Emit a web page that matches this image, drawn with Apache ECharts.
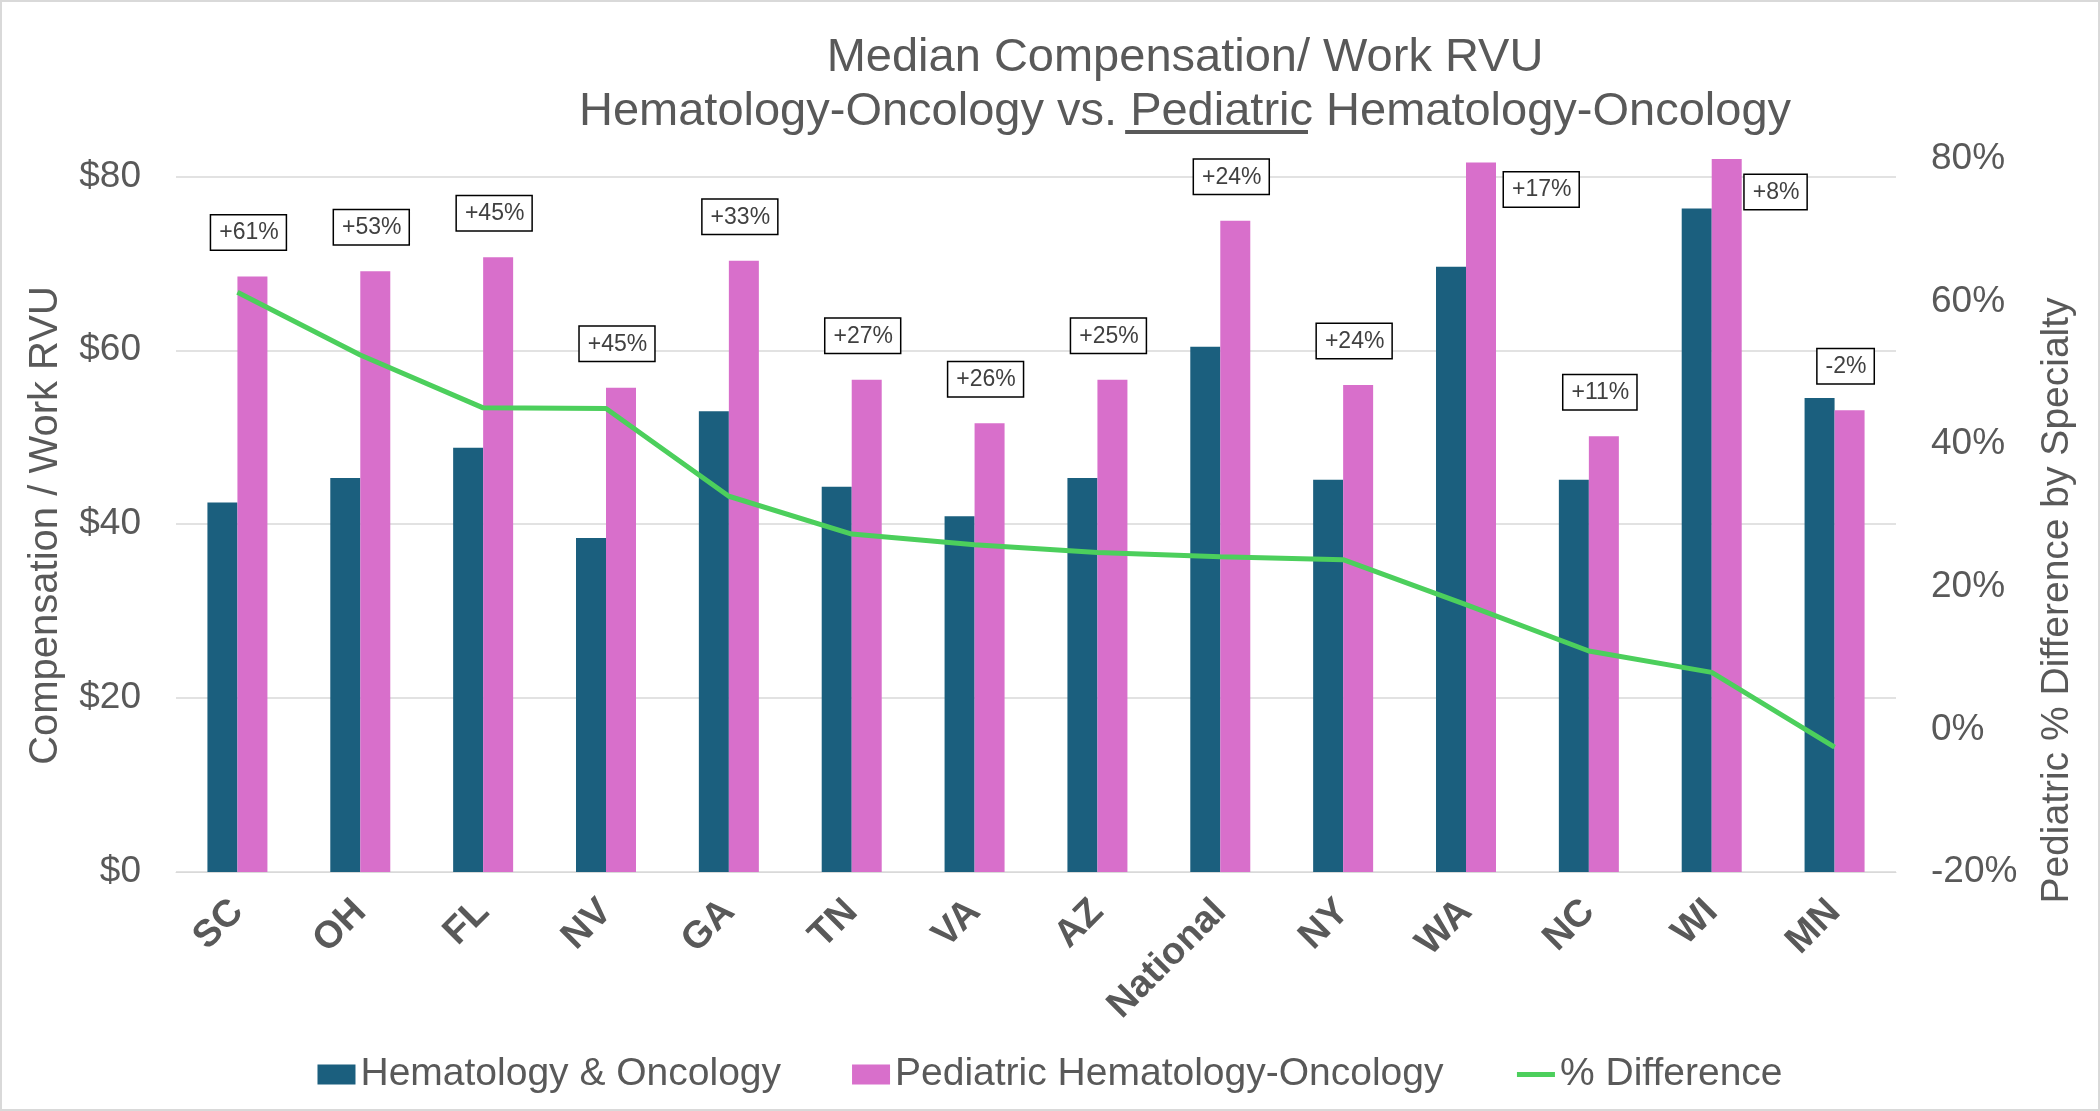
<!DOCTYPE html>
<html>
<head>
<meta charset="utf-8">
<script src="https://cdn.jsdelivr.net/npm/echarts@6/dist/echarts.min.js"></script>
<style>
  html, body { margin: 0; padding: 0; background: #fff; }
  #chart { width: 2100px; height: 1111px; box-sizing: border-box; border: 2px solid #d9d9d9; }
</style>
</head>
<body>
<div id="chart"></div>
<script>
// categories and values
var categories = ['SC', 'OH', 'FL', 'NV', 'GA', 'TN', 'VA', 'AZ', 'National', 'NY', 'WA', 'NC', 'WI', 'MN'];
var hemOnc = [42.5, 45.3, 48.8, 38.4, 53.0, 44.3, 40.9, 45.3, 60.4, 45.1, 69.6, 45.1, 76.3, 54.5];
var pedHemOnc = [68.5, 69.1, 70.7, 55.7, 70.3, 56.6, 51.6, 56.6, 74.9, 56.0, 81.6, 50.1, 82.1, 53.1];
var pctDiff = [61.3, 52.5, 45.1, 45.0, 32.7, 27.4, 25.9, 24.8, 24.2, 23.8, 17.5, 11.0, 8.0, -2.5];
var pctLabels = ['+61%', '+53%', '+45%', '+45%', '+33%', '+27%', '+26%', '+25%', '+24%', '+24%', '+17%', '+11%', '+8%', '-2%'];
var leftTicks = [0, 20, 40, 60, 80];

var FONT = '"Liberation Sans", Arial, sans-serif';
var GREY = '#595959';
var GREEN = '#4ccf5c';

var myChart = echarts.init(document.getElementById('chart'));

// underline under "Pediatric" in the second title line
var line1 = 'Median Compensation/ Work RVU';
var line2 = 'Hematology-Oncology vs. Pediatric Hematology-Oncology';
var titleX = 1178;
var ctx = document.createElement('canvas').getContext('2d');
ctx.font = '47px ' + FONT;
var wLine = ctx.measureText(line2).width;
var wPre = ctx.measureText('Hematology-Oncology vs. ').width;
var wPed = ctx.measureText('Pediatric').width;

// labels for WA and WI sit to the right of the bar
var sideLabel = { 10: [38, 10], 12: [33, 16] };
var pedData = pedHemOnc.map(function (v, i) {
  if (sideLabel[i]) {
    return { value: v, label: { position: sideLabel[i], offset: [0, 0] } };
  }
  return v;
});

var option = {
  animation: false,
  textStyle: { fontFamily: FONT },
  title: {
    text: line1 + '\n' + line2,
    left: titleX,
    top: 24,
    textAlign: 'center',
    textStyle: { fontSize: 47, lineHeight: 54, fontWeight: 'normal', color: GREY, fontFamily: FONT }
  },
  graphic: [{
    type: 'rect',
    shape: { x: titleX - wLine / 2 + wPre, y: 128, width: wPed, height: 4 },
    style: { fill: GREY }
  }],
  legend: {
    left: 'center',
    top: 1048,
    itemWidth: 38,
    itemHeight: 20,
    itemGap: 71,
    textStyle: { fontSize: 39, color: GREY, fontFamily: FONT },
    data: [
      { name: 'Hematology & Oncology', icon: 'rect' },
      { name: 'Pediatric Hematology-Oncology', icon: 'rect' },
      { name: '% Difference', itemStyle: { opacity: 0 }, lineStyle: { width: 5, color: GREEN } }
    ]
  },
  grid: { left: 174, right: 202, top: 157, bottom: 237 },
  xAxis: {
    type: 'category',
    data: categories,
    axisLine: { lineStyle: { color: '#d9d9d9' } },
    axisTick: { show: false },
    axisLabel: {
      interval: 0,
      rotate: 45,
      margin: 34,
      fontSize: 38,
      fontWeight: 'bold',
      color: GREY,
      fontFamily: FONT
    }
  },
  yAxis: [{
    type: 'value',
    min: 0,
    max: 82,
    interval: 20,
    name: 'Compensation / Work RVU',
    nameLocation: 'middle',
    nameRotate: 90,
    nameGap: 110,
    nameTextStyle: { fontSize: 40, color: GREY, fontFamily: FONT, padding: [0, 20, 0, 0] },
    axisLine: { show: false },
    axisTick: { show: false },
    axisLabel: {
      margin: 35,
      fontSize: 37,
      color: GREY,
      fontFamily: FONT,
      formatter: function (v) { return leftTicks.indexOf(v) >= 0 ? '$' + v : ''; }
    },
    splitLine: {
      lineStyle: { color: ['#d9d9d9', '#d9d9d9', '#d9d9d9', '#d9d9d9', '#d9d9d9', 'rgba(0,0,0,0)'], width: 1.5 }
    }
  }, {
    type: 'value',
    min: -20,
    max: 80,
    interval: 20,
    name: 'Pediatric % Difference by Specialty',
    nameLocation: 'middle',
    nameRotate: 90,
    nameGap: 142,
    nameTextStyle: { fontSize: 39, color: GREY, fontFamily: FONT, padding: [0, 170, 0, 0] },
    axisLine: { show: false },
    axisTick: { show: false },
    splitLine: { show: false },
    axisLabel: {
      margin: 35,
      fontSize: 37,
      color: GREY,
      fontFamily: FONT,
      formatter: '{value}%'
    }
  }],
  series: [{
    name: 'Hematology & Oncology',
    type: 'bar',
    barWidth: 30,
    barGap: '0%',
    itemStyle: { color: '#1b5f7e' },
    data: hemOnc
  }, {
    name: 'Pediatric Hematology-Oncology',
    type: 'bar',
    barWidth: 30,
    itemStyle: { color: '#d86fcb' },
    label: {
      show: true,
      position: 'top',
      distance: 27,
      offset: [-4, 0],
      formatter: function (p) { return pctLabels[p.dataIndex]; },
      fontSize: 23,
      lineHeight: 23,
      color: '#404040',
      fontFamily: FONT,
      backgroundColor: '#fff',
      borderColor: '#000',
      borderWidth: 1.5,
      padding: [6, 7, 5, 8]
    },
    data: pedData
  }, {
    name: '% Difference',
    type: 'line',
    yAxisIndex: 1,
    symbol: 'none',
    z: 5,
    lineStyle: { color: GREEN, width: 5 },
    itemStyle: { color: GREEN },
    data: pctDiff
  }]
};
myChart.setOption(option);
window.addEventListener('resize', function () {
  myChart.resize();
});
</script>
</body>
</html>
